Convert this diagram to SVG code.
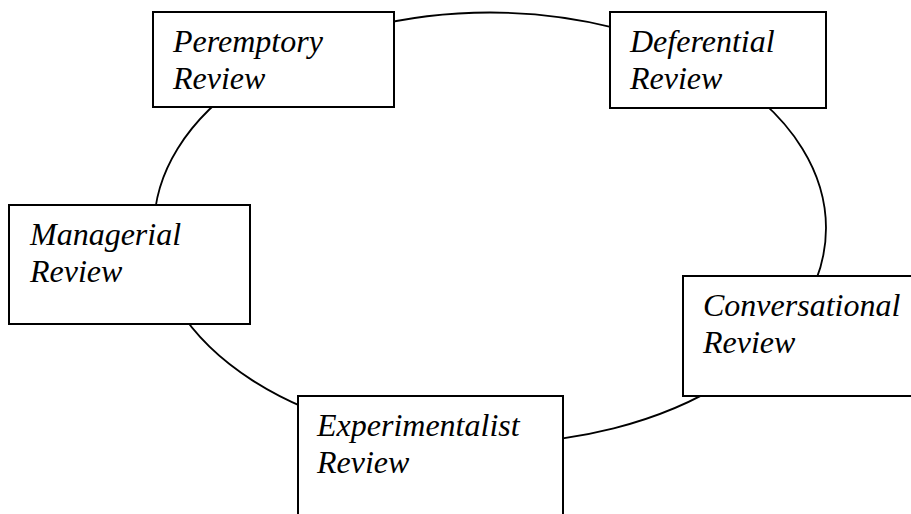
<svg xmlns="http://www.w3.org/2000/svg" width="911" height="514" viewBox="0 0 911 514">
<style>
.box{fill:#fff;stroke:#000;stroke-width:2}
.lbl{font-family:"Liberation Serif","Times New Roman",serif;font-style:italic;font-size:32px;fill:#000}
.conn{fill:none;stroke:#000;stroke-width:1.8}
</style>
<rect width="911" height="514" fill="#fff"/>
<g id="connectors">
<ellipse class="conn" cx="490" cy="228" rx="336" ry="215.5"/>
</g>
<g id="peremptory">
<rect class="box" x="153" y="12" width="241" height="95"/>
<text class="lbl" x="173" y="52">Peremptory</text>
<text class="lbl" x="173" y="89">Review</text>
</g>
<g id="deferential">
<rect class="box" x="610" y="12" width="216" height="96"/>
<text class="lbl" x="630" y="52">Deferential</text>
<text class="lbl" x="630" y="89">Review</text>
</g>
<g id="managerial">
<rect class="box" x="9" y="205" width="241" height="119"/>
<text class="lbl" x="30" y="245">Managerial</text>
<text class="lbl" x="30" y="282">Review</text>
</g>
<g id="conversational">
<rect class="box" x="683" y="276" width="235" height="120"/>
<text class="lbl" x="703" y="316">Conversational</text>
<text class="lbl" x="703" y="353">Review</text>
</g>
<g id="experimentalist">
<rect class="box" x="298" y="396" width="265" height="130"/>
<text class="lbl" x="317" y="436">Experimentalist</text>
<text class="lbl" x="317" y="473">Review</text>
</g>
</svg>
